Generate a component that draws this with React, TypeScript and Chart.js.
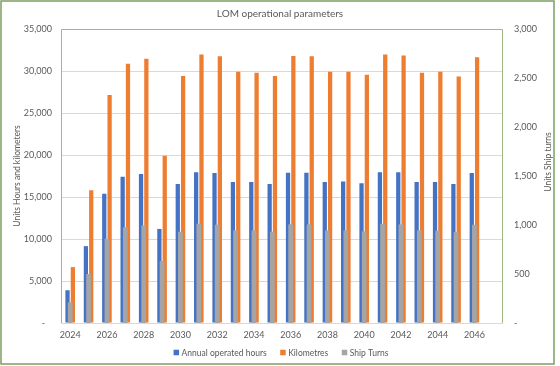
import { useEffect, useRef } from 'react';
import { Chart, registerables } from 'chart.js';

Chart.register(...registerables);

const years = ['2024', '2025', '2026', '2027', '2028', '2029', '2030', '2031', '2032', '2033', '2034', '2035',
  '2036', '2037', '2038', '2039', '2040', '2041', '2042', '2043', '2044', '2045', '2046', '2047'];

const annualOperatedHours = [3900, 9150, 15400, 17400, 17750, 11200, 16550, 17950, 17850, 16800, 16800, 16550,
  17900, 17900, 16800, 16850, 16650, 17950, 17950, 16800, 16800, 16550, 17850, null];

const kilometres = [6650, 15800, 27150, 30850, 31450, 19900, 29400, 31950, 31750, 29900, 29800, 29400,
  31800, 31750, 29900, 29900, 29550, 31950, 31850, 29800, 29900, 29350, 31650, null];

const shipTurns = [210, 500, 860, 976, 996, 633, 932, 1013, 1003, 945, 945, 932,
  1006, 1006, 945, 945, 935, 1013, 1006, 945, 942, 929, 1003, null];

const seriesNames = ['Annual operated hours', 'Kilometres', 'Ship Turns'];
const chartTitle = 'LOM operational parameters';
const leftAxisTitle = 'Units Hours and kilometers';
const rightAxisTitle = 'Units Ship turns';

const BLUE = '#4472C4';
const ORANGE = '#ED7D31';
const GRAY = '#A5A5A5';
const TEXT = '#595959';
const GRID = '#D9D9D9';
const FONT = 'Lato, "Open Sans", sans-serif';

const fmt = (v: number) => (v === 0 ? '-' : v.toLocaleString('en-US'));

const decorPlugin = {
  id: 'decor',
  afterDraw(chart: any) {
    const ctx = chart.ctx as CanvasRenderingContext2D;
    const a = chart.chartArea;
    ctx.save();
    // outer border
    ctx.strokeStyle = '#7E9E62';
    ctx.lineWidth = 1.5;
    ctx.strokeRect(1, 1, 553, 363);
    // plot border (left, top, right)
    ctx.strokeStyle = '#9DBA86';
    ctx.lineWidth = 1;
    ctx.beginPath();
    ctx.moveTo(Math.round(a.left) + 0.5, Math.round(a.bottom));
    ctx.lineTo(Math.round(a.left) + 0.5, Math.round(a.top) + 0.5);
    ctx.lineTo(Math.round(a.right) + 0.5, Math.round(a.top) + 0.5);
    ctx.lineTo(Math.round(a.right) + 0.5, Math.round(a.bottom));
    ctx.stroke();

    ctx.fillStyle = TEXT;
    // title
    ctx.font = `10px ${FONT}`;
    ctx.textAlign = 'center';
    ctx.textBaseline = 'middle';
    ctx.fillText(chartTitle, 280, 14);

    // axis titles
    ctx.font = `8.5px ${FONT}`;
    ctx.save();
    ctx.translate(17, (a.top + a.bottom) / 2);
    ctx.rotate(-Math.PI / 2);
    ctx.fillText(leftAxisTitle, 0, 0);
    ctx.restore();
    ctx.save();
    ctx.translate(548, 162);
    ctx.rotate(-Math.PI / 2);
    ctx.fillText(rightAxisTitle, 0, 0);
    ctx.restore();

    // legend
    const colors = chart.data.datasets.map((d: any) => d.backgroundColor);
    const labels = chart.data.datasets.map((d: any) => d.label);
    ctx.font = `8.5px ${FONT}`;
    const box = 5.5;
    const gap = 2.5;
    const itemGap = 13.5;
    const widths = labels.map((l: string) => box + gap + ctx.measureText(l).width);
    const total = widths.reduce((s: number, w: number) => s + w, 0) + itemGap * (labels.length - 1);
    let x = 281 - total / 2;
    const y = 352.5;
    ctx.textAlign = 'left';
    labels.forEach((l: string, i: number) => {
      ctx.fillStyle = colors[i];
      ctx.fillRect(x, y - box / 2, box, box);
      ctx.fillStyle = TEXT;
      ctx.fillText(l, x + box + gap, y + 0.5);
      x += widths[i] + itemGap;
    });
    ctx.restore();
  },
};

export default function App() {
  const ref = useRef<HTMLCanvasElement>(null);
  useEffect(() => {
    document.body.style.margin = '0';
    const chart = new Chart(ref.current as HTMLCanvasElement, {
      type: 'bar',
      data: {
        labels: years,
        datasets: [
          {
            label: seriesNames[0], data: annualOperatedHours as any, backgroundColor: BLUE,
            yAxisID: 'y', order: 1, categoryPercentage: 0.58, barPercentage: 0.8,
          },
          {
            label: seriesNames[1], data: kilometres as any, backgroundColor: ORANGE,
            yAxisID: 'y', order: 1, categoryPercentage: 0.58, barPercentage: 0.8,
          },
          {
            label: seriesNames[2], data: shipTurns as any, backgroundColor: GRAY,
            yAxisID: 'y2', order: 0, grouped: false, categoryPercentage: 1, barPercentage: 0.26,
          },
        ],
      },
      options: {
        responsive: false,
        animation: false,
        devicePixelRatio: 1,
        layout: { padding: { top: 29, bottom: 23, left: 0, right: 0 } },
        plugins: { legend: { display: false }, title: { display: false }, tooltip: { enabled: false } },
        scales: {
          x: {
            type: 'category', position: 'bottom', offset: true,
            grid: { display: false, drawTicks: false },
            border: { display: true, color: GRID, width: 1 },
            ticks: {
              autoSkip: false, maxRotation: 0, minRotation: 0, padding: 7, color: TEXT,
              font: { family: FONT, size: 9 },
              callback: (_v: any, i: number) => (i % 2 === 0 ? years[i] : ''),
            },
            afterFit: (s: any) => { s.height = 20; },
          },
          y: {
            position: 'left', min: 0, max: 35000,
            grid: { color: GRID, drawTicks: false },
            border: { display: false },
            ticks: {
              stepSize: 5000, padding: 9, color: TEXT, font: { family: FONT, size: 9 },
              callback: (v: any) => (v === 0 ? '-   ' : fmt(v)),
            },
            afterFit: (s: any) => { s.width = 61; },
          },
          y2: {
            position: 'right', min: 0, max: 3000,
            grid: { display: false, drawTicks: false },
            border: { display: false },
            ticks: {
              stepSize: 500, padding: 12, color: TEXT, font: { family: FONT, size: 9 },
              callback: (v: any) => fmt(v),
            },
            afterFit: (s: any) => { s.width = 58; },
          },
        },
      },
      plugins: [decorPlugin],
    });
    return () => chart.destroy();
  }, []);
  return (
    <div style={{ position: 'absolute', left: 0, top: 0, width: 560, height: 366, background: '#fff' }}>
      <canvas ref={ref} width={560} height={366} style={{ display: 'block' }} />
    </div>
  );
}
